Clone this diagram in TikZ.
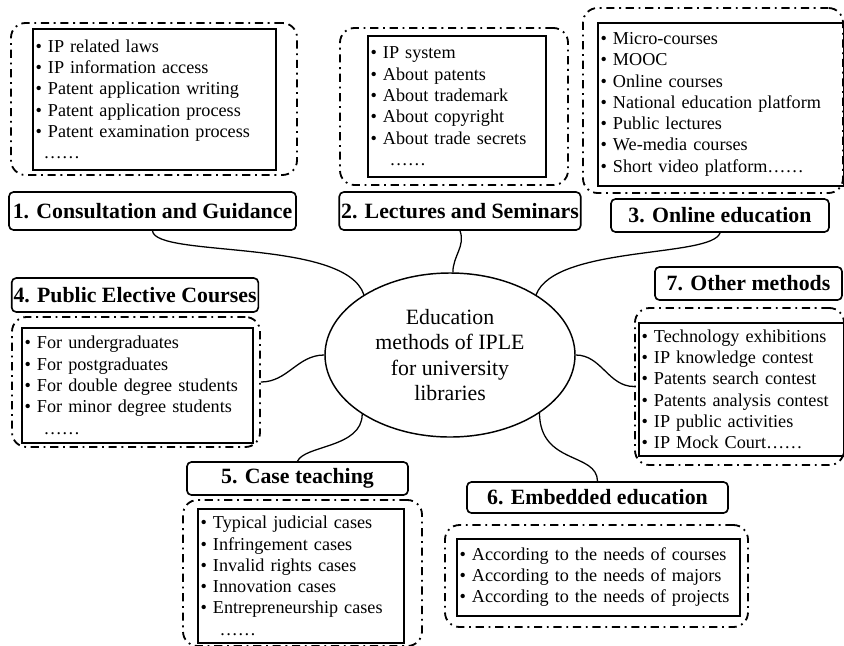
\documentclass[tikz,border=0pt]{standalone}
\usepackage{fontspec}
\setmainfont{Liberation Serif}
\usetikzlibrary{shapes.geometric,fit}

\begin{document}
\begin{tikzpicture}[
  x=0.55pt,
  y=-0.55pt,
  topic/.style={
    ellipse,
    draw,
    line width=0.8pt,
    minimum width=137.5pt,
    minimum height=90.2pt,
    inner sep=0pt,
    align=center,
    font=\fontsize{12}{13.8}\selectfont
  },
  heading/.style={
    rectangle,
    rounded corners=2.5pt,
    draw,
    line width=0.9pt,
    inner sep=1pt,
    font=\bfseries\fontsize{12}{14}\selectfont
  },
  itembox/.style={
    rectangle,
    draw,
    line width=0.9pt,
    anchor=north west,
    inner xsep=1.5pt,
    inner ysep=0pt,
    align=left,
    font=\fontsize{10}{11.7}\selectfont
  },
  groupbox/.style={
    rectangle,
    rounded corners=8pt,
    draw,
    line width=1pt,
    dash pattern=on 4.5pt off 2.6pt on 1pt off 2.6pt,
    inner sep=0pt
  },
  link/.style={
    line width=0.7pt
  }
]

\path[use as bounding box] (0,0) rectangle (844,645);
\node[topic] (core) at (450,355)
  {Education\\methods of IPLE\\for university\\libraries};

% headings
\node[heading, minimum width=157.9pt, minimum height=20.9pt] (head1) at (152.5,211) {1. Consultation and Guidance};
\node[heading, minimum width=132pt, minimum height=20.9pt] (head2) at (460,211) {2. Lectures and Seminars};
\node[heading, minimum width=119.9pt, minimum height=18.2pt] (head3) at (720,215.5) {3. Online education};
\node[heading, minimum width=135.3pt, minimum height=18.7pt] (head4) at (135,295) {4. Public Elective Courses};
\node[heading, minimum width=121.6pt, minimum height=18.2pt] (head5) at (297.5,478.5) {5. Case teaching};
\node[heading, minimum width=143.6pt, minimum height=17.1pt] (head6) at (597.5,497.5) {6. Embedded education};
\node[heading, minimum width=102.9pt, minimum height=18.2pt] (head7) at (748.5,283.5) {7. Other methods};

% item lists
\node[itembox, text width=130.6pt, minimum height=77.5pt] (list1) at (32,28)
  {• IP related laws\\• IP information access\\• Patent application writing\\• Patent application process\\• Patent examination process\\\hspace*{4.5pt}……};
\node[itembox, text width=94.9pt, minimum height=77.5pt] (list2) at (367,35)
  {• IP system\\• About patents\\• About trademark\\• About copyright\\• About trade secrets\\\hspace*{10.5pt}……};
\node[itembox, text width=132.3pt, minimum height=89.6pt] (list3) at (597,22)
  {• Micro-courses\\• MOOC\\• Online courses\\• National education platform\\• Public lectures\\• We-media courses\\• Short video platform……};
\node[itembox, text width=124pt, minimum height=63.2pt] (list4) at (21,327)
  {• For undergraduates\\• For postgraduates\\• For double degree students\\• For minor degree students\\\hspace*{10.5pt}……};
\node[itembox, text width=110.3pt, minimum height=73.7pt] (list5) at (197,508)
  {• Typical judicial cases\\• Infringement cases\\• Invalid rights cases\\• Innovation cases\\• Entrepreneurship cases\\\hspace*{10.5pt}……};
\node[itembox, text width=152.6pt, minimum height=42.3pt] (list6) at (456,538)
  {• According to the needs of courses\\• According to the needs of majors\\• According to the needs of projects};
\node[itembox, text width=109.7pt, minimum height=73.1pt] (list7) at (638,322)
  {• Technology exhibitions\\• IP knowledge contest\\• Patents search contest\\• Patents analysis contest\\• IP public activities\\• IP Mock Court……};

% dash-dot groups
\node[groupbox, fit={(11,23) (297,175)}] (group1) {};
\node[groupbox, fit={(340,28) (568,185)}] (group2) {};
\node[groupbox, fit={(583,8) (843,193)}] (group3) {};
\node[groupbox, fit={(12,317) (260,447)}] (group4) {};
\node[groupbox, fit={(183,500) (422,646)}] (group5) {};
\node[groupbox, fit={(445,525) (748,627)}] (group6) {};
\node[groupbox, fit={(635,308) (844,465)}] (group7) {};

% connectors
\draw[link] (head1.south) .. controls (155,258) and (345,238) .. (core.145);
\draw[link] (head2.south) to[out=-70,in=90] (core.88);
\draw[link] (head3.south) .. controls (712,258) and (555,245) .. (core.35);
\draw[link] (group4.east) to[out=0,in=180] (core.west);
\draw[link] (core.east) to[out=0,in=180] (group7.west);
\draw[link] (head5.north) .. controls (305,445) and (362,448) .. (core.-146);
\draw[link] (core.-33) .. controls (540,465) and (597,452) .. (head6.north);

\end{tikzpicture}
\end{document}
